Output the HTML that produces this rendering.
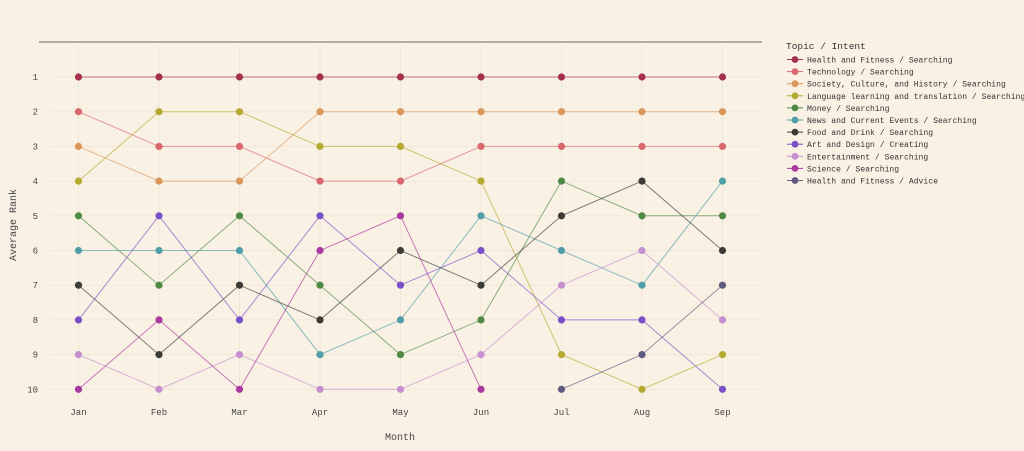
<!DOCTYPE html>
<html><head><meta charset="utf-8"><style>
html,body{margin:0;padding:0;background:#faf1e5;}
svg{display:block;font-family:"Liberation Mono",monospace;}
</style></head><body>
<svg id="chart" width="1024" height="451">
<rect width="1024" height="451" fill="#faf1e5"/>
<line x1="39" y1="42" x2="762" y2="42" stroke="#8a8580" stroke-width="1.2"/>
<g id="grid"></g><g id="lines"></g><g id="axes"></g><g id="legend"></g>
<text x="400" y="440" font-size="10" fill="#444" text-anchor="middle">Month</text>
<text x="16" y="225" font-size="10" fill="#444" text-anchor="middle" transform="rotate(-90 16 225)">Average Rank</text>
</svg>
<script>
const months=["Jan","Feb","Mar","Apr","May","Jun","Jul","Aug","Sep"];
const rankTicks=[1,2,3,4,5,6,7,8,9,10];
const seriesNames=["Health and Fitness / Searching","Technology / Searching","Society, Culture, and History / Searching","Language learning and translation / Searching","Money / Searching","News and Current Events / Searching","Food and Drink / Searching","Art and Design / Creating","Entertainment / Searching","Science / Searching","Health and Fitness / Advice"];
const seriesColors=["#a3304e","#d9686e","#d9975c","#b5aa30","#4f8a45","#4f9ea8","#3d3b35","#7a50c8","#c590cf","#a8399e","#5e5a80"];
const s0=[1,1,1,1,1,1,1,1,1];
const s1=[2,3,3,4,4,3,3,3,3];
const s2=[3,4,4,2,2,2,2,2,2];
const s3=[4,2,2,3,3,4,9,10,9];
const s4=[5,7,5,7,9,8,4,5,5];
const s5=[6,6,6,9,8,5,6,7,4];
const s6=[7,9,7,8,6,7,5,4,6];
const s7=[8,5,8,5,7,6,8,8,10];
const s8=[9,10,9,10,10,9,7,6,8];
const s9=[10,8,10,6,5,10,null,null,null];
const s10=[null,null,null,null,null,null,10,9,7];
const seriesData=[s0,s1,s2,s3,s4,s5,s6,s7,s8,s9,s10];
const NS="http://www.w3.org/2000/svg";
const xS=i=>78.5+i*80.5;
const yS=r=>77+(r-1)*34.7;
function mk(tag,attrs,parent){const e=document.createElementNS(NS,tag);for(const k in attrs)e.setAttribute(k,attrs[k]);parent.appendChild(e);return e;}
const grid=document.getElementById("grid"),axes=document.getElementById("axes"),lines=document.getElementById("lines"),legend=document.getElementById("legend");
months.forEach((m,i)=>{
 const g=mk("line",{x1:xS(i),x2:xS(i),y1:45,y2:400,stroke:"#f1e7d8","stroke-width":1},grid);
 
 
 const t=mk("text",{x:xS(i),y:415,"font-size":9,fill:"#444","text-anchor":"middle"},axes);
 t.textContent=m;
 
 
});
rankTicks.forEach(r=>{
 const g=mk("line",{x1:50,x2:760,y1:yS(r),y2:yS(r),stroke:"#f1e7d8","stroke-width":1},grid);
 
 
 const t=mk("text",{x:38,y:yS(r)+3,"font-size":9,fill:"#444","text-anchor":"end"},axes);
 t.textContent=r;
 
 
});
seriesData.forEach((d,si)=>{
 const c=seriesColors[si];
 const g=mk("g",{},lines);
 
 
 let pts=[];
 d.forEach((v,i)=>{if(v!=null)pts.push(xS(i)+","+yS(v));});
 const pl=mk("polyline",{points:pts.join(" "),fill:"none",stroke:c,"stroke-width":1,"stroke-opacity":0.65},g);
 
 
 d.forEach((v,i)=>{if(v==null)return;
  const p=mk("circle",{cx:xS(i),cy:yS(v),r:3.6,fill:c},g);
  
  
 });
});
const lt=mk("text",{x:786,y:49,"font-size":9.5,fill:"#333"},legend);
lt.textContent="Topic / Intent";


seriesNames.forEach((n,i)=>{
 const y=59.5+i*12.1;
 const g=mk("g",{},legend);
 
 
 mk("line",{x1:787,x2:803,y1:y,y2:y,stroke:seriesColors[i],"stroke-width":1},g);
 mk("circle",{cx:795,cy:y,r:3.4,fill:seriesColors[i]},g);
 const t=mk("text",{x:807,y:y+3,"font-size":8.6,fill:"#333",textLength:n.length*4.85,lengthAdjust:"spacingAndGlyphs"},g);
 t.textContent=n;
});
</script>
</body></html>
